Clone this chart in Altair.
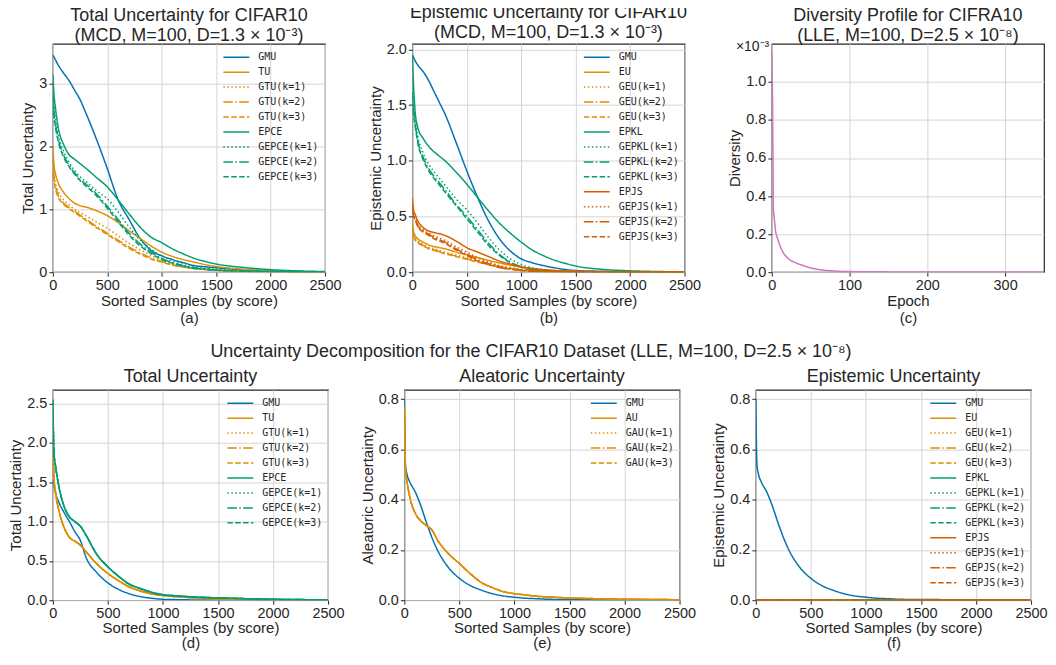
import altair as alt
import pandas as pd

FONT = "Liberation Sans"
MONO = "DejaVu Sans Mono"
TEXT = "#262626"

BLUE = "#0173B2"
ORANGE = "#DE8F05"
GREEN = "#029E73"
VERM = "#D55E00"
PINK = "#CC78BC"

SOLID = [1, 0]
DOT = [1.5, 2.5]
DASHDOT = [9.6, 2.4, 1.5, 2.4]
DASH = [5.5, 2.4]

# ---------------- data ----------------
SAMPLES = [0, 10, 25, 50, 100, 150, 200, 250, 300, 400, 500, 600, 700, 800,
           900, 1000, 1100, 1200, 1300, 1400, 1500, 1750, 2000, 2250, 2500]
SAMPLE_TICKS = [0, 500, 1000, 1500, 2000, 2500]

# (a) Total uncertainty, MCD
A_GMU = [3.46, 3.43, 3.38, 3.30, 3.17, 3.05, 2.90, 2.75, 2.55, 2.12, 1.65, 1.15, 0.84, 0.54, 0.35, 0.26, 0.20, 0.15, 0.105, 0.085, 0.07, 0.04, 0.02, 0.01, 0.005]
A_TU = [2.00, 1.72, 1.56, 1.42, 1.27, 1.17, 1.10, 1.06, 1.04, 0.98, 0.90, 0.79, 0.66, 0.54, 0.42, 0.32, 0.25, 0.20, 0.16, 0.12, 0.09, 0.045, 0.02, 0.01, 0.005]
A_GTU1 = [1.90, 1.58, 1.42, 1.28, 1.15, 1.07, 1.00, 0.95, 0.90, 0.80, 0.70, 0.58, 0.46, 0.36, 0.27, 0.20, 0.14, 0.10, 0.07, 0.05, 0.04, 0.02, 0.01, 0.005, 0.002]
A_GTU2 = [1.85, 1.52, 1.36, 1.22, 1.10, 1.03, 0.97, 0.91, 0.85, 0.73, 0.62, 0.51, 0.40, 0.31, 0.23, 0.17, 0.12, 0.085, 0.06, 0.045, 0.033, 0.017, 0.008, 0.004, 0.002]
A_GTU3 = [1.80, 1.48, 1.32, 1.19, 1.08, 1.01, 0.95, 0.89, 0.83, 0.71, 0.60, 0.49, 0.38, 0.29, 0.21, 0.16, 0.11, 0.08, 0.055, 0.04, 0.03, 0.015, 0.007, 0.003, 0.001]
A_EPCE = [3.15, 2.85, 2.60, 2.30, 2.03, 1.87, 1.80, 1.73, 1.66, 1.51, 1.36, 1.15, 0.93, 0.72, 0.56, 0.47, 0.37, 0.29, 0.22, 0.17, 0.13, 0.075, 0.04, 0.02, 0.01]
A_GEPCE1 = [2.95, 2.65, 2.45, 2.20, 1.92, 1.75, 1.62, 1.52, 1.45, 1.30, 1.17, 0.96, 0.72, 0.52, 0.37, 0.26, 0.18, 0.12, 0.08, 0.06, 0.045, 0.025, 0.012, 0.006, 0.003]
A_GEPCE2 = [2.85, 2.55, 2.35, 2.12, 1.86, 1.70, 1.58, 1.48, 1.41, 1.25, 1.05, 0.84, 0.62, 0.45, 0.32, 0.22, 0.15, 0.10, 0.07, 0.05, 0.035, 0.018, 0.009, 0.004, 0.002]
A_GEPCE3 = [2.80, 2.50, 2.30, 2.08, 1.83, 1.68, 1.56, 1.46, 1.38, 1.22, 1.02, 0.80, 0.59, 0.42, 0.30, 0.20, 0.14, 0.09, 0.06, 0.045, 0.03, 0.015, 0.008, 0.004, 0.002]

# (b) Epistemic uncertainty, MCD
B_GMU = [1.95, 1.93, 1.90, 1.86, 1.80, 1.72, 1.62, 1.52, 1.42, 1.17, 0.91, 0.67, 0.46, 0.30, 0.19, 0.12, 0.085, 0.06, 0.04, 0.025, 0.015, 0.008, 0.005, 0.003, 0.002]
B_EU = [0.45, 0.37, 0.33, 0.30, 0.27, 0.245, 0.23, 0.22, 0.21, 0.18, 0.155, 0.13, 0.105, 0.083, 0.062, 0.045, 0.032, 0.022, 0.015, 0.011, 0.008, 0.004, 0.002, 0.001, 0.001]
B_GEU1 = [0.41, 0.35, 0.31, 0.28, 0.25, 0.225, 0.21, 0.195, 0.18, 0.155, 0.13, 0.105, 0.08, 0.058, 0.04, 0.027, 0.017, 0.011, 0.007, 0.005, 0.003, 0.002, 0.001, 0.0, 0.0]
B_GEU2 = [0.40, 0.34, 0.30, 0.27, 0.24, 0.215, 0.20, 0.185, 0.17, 0.145, 0.12, 0.095, 0.07, 0.05, 0.035, 0.022, 0.014, 0.009, 0.006, 0.004, 0.003, 0.002, 0.001, 0.0, 0.0]
B_GEU3 = [0.39, 0.33, 0.29, 0.265, 0.235, 0.21, 0.195, 0.18, 0.165, 0.14, 0.115, 0.09, 0.067, 0.047, 0.032, 0.02, 0.013, 0.008, 0.005, 0.004, 0.002, 0.001, 0.001, 0.0, 0.0]
B_EPKL = [1.95, 1.70, 1.45, 1.30, 1.20, 1.13, 1.08, 1.04, 1.00, 0.90, 0.79, 0.67, 0.55, 0.44, 0.35, 0.27, 0.20, 0.15, 0.11, 0.08, 0.055, 0.025, 0.012, 0.006, 0.003]
B_GEPKL1 = [1.65, 1.50, 1.38, 1.22, 1.07, 0.97, 0.90, 0.84, 0.78, 0.66, 0.56, 0.44, 0.31, 0.20, 0.12, 0.07, 0.04, 0.022, 0.013, 0.008, 0.005, 0.003, 0.002, 0.001, 0.001]
B_GEPKL2 = [1.62, 1.46, 1.34, 1.18, 1.03, 0.93, 0.86, 0.80, 0.74, 0.61, 0.50, 0.38, 0.26, 0.16, 0.09, 0.05, 0.03, 0.017, 0.01, 0.006, 0.004, 0.002, 0.001, 0.001, 0.0]
B_GEPKL3 = [1.60, 1.44, 1.32, 1.16, 1.01, 0.91, 0.84, 0.78, 0.72, 0.60, 0.48, 0.36, 0.24, 0.15, 0.085, 0.045, 0.025, 0.015, 0.009, 0.005, 0.003, 0.002, 0.001, 0.0, 0.0]
B_EPJS = [0.67, 0.56, 0.52, 0.46, 0.40, 0.37, 0.355, 0.345, 0.33, 0.28, 0.22, 0.18, 0.14, 0.10, 0.072, 0.048, 0.032, 0.022, 0.015, 0.01, 0.008, 0.004, 0.002, 0.001, 0.001]
B_GEPJS1 = [0.61, 0.53, 0.49, 0.43, 0.38, 0.35, 0.325, 0.305, 0.285, 0.23, 0.18, 0.13, 0.09, 0.058, 0.036, 0.021, 0.013, 0.008, 0.005, 0.004, 0.003, 0.002, 0.001, 0.0, 0.0]
B_GEPJS2 = [0.60, 0.52, 0.48, 0.42, 0.37, 0.34, 0.31, 0.29, 0.27, 0.21, 0.16, 0.11, 0.075, 0.045, 0.028, 0.016, 0.01, 0.006, 0.004, 0.003, 0.002, 0.001, 0.0, 0.0, 0.0]
B_GEPJS3 = [0.59, 0.51, 0.47, 0.41, 0.36, 0.33, 0.30, 0.28, 0.26, 0.20, 0.15, 0.10, 0.07, 0.042, 0.026, 0.015, 0.009, 0.006, 0.004, 0.003, 0.002, 0.001, 0.0, 0.0, 0.0]

# (c) Diversity profile (values in units of 1e-3)
EPOCHS = [0, 1, 2, 3, 4, 5, 6, 8, 10, 12, 15, 18, 20, 25, 30, 35, 40, 45, 50, 60, 70, 80, 90, 100, 150, 200, 250, 300, 350]
DIVERSITY = [1.15, 0.90, 0.33, 0.29, 0.25, 0.21, 0.195, 0.17, 0.145, 0.125, 0.10, 0.085, 0.075, 0.06, 0.05, 0.042, 0.035, 0.028, 0.022, 0.014, 0.009, 0.006, 0.004, 0.003, 0.0015, 0.001, 0.0008, 0.0006, 0.0005]
EPOCH_TICKS = [0, 100, 200, 300]

# (d) Total uncertainty, LLE
D_GMU = [1.75, 1.47, 1.36, 1.26, 1.12, 1.00, 0.87, 0.76, 0.55, 0.35, 0.22, 0.135, 0.08, 0.045, 0.025, 0.012, 0.008, 0.005, 0.004, 0.003, 0.003, 0.002, 0.001, 0.001, 0.0]
D_TU = [2.10, 1.55, 1.36, 1.17, 0.93, 0.80, 0.75, 0.70, 0.62, 0.46, 0.34, 0.245, 0.165, 0.115, 0.08, 0.06, 0.048, 0.038, 0.03, 0.022, 0.017, 0.01, 0.006, 0.004, 0.002]
D_EPCE = [2.55, 1.88, 1.70, 1.48, 1.20, 1.06, 1.00, 0.94, 0.83, 0.58, 0.425, 0.30, 0.20, 0.145, 0.10, 0.07, 0.058, 0.048, 0.04, 0.034, 0.03, 0.02, 0.012, 0.008, 0.005]

# (e) Aleatoric uncertainty, LLE
E_GMU = [0.80, 0.54, 0.50, 0.47, 0.43, 0.375, 0.31, 0.25, 0.20, 0.13, 0.087, 0.058, 0.04, 0.026, 0.017, 0.012, 0.008, 0.006, 0.004, 0.003, 0.003, 0.002, 0.001, 0.001, 0.0]
E_AU = [0.77, 0.52, 0.47, 0.41, 0.345, 0.315, 0.297, 0.28, 0.24, 0.185, 0.146, 0.105, 0.07, 0.05, 0.034, 0.026, 0.021, 0.016, 0.013, 0.011, 0.009, 0.006, 0.004, 0.003, 0.002]

# (f) Epistemic uncertainty, LLE
F_GMU = [0.80, 0.54, 0.50, 0.47, 0.43, 0.375, 0.31, 0.25, 0.20, 0.13, 0.087, 0.058, 0.04, 0.026, 0.017, 0.012, 0.008, 0.006, 0.004, 0.003, 0.003, 0.002, 0.001, 0.001, 0.0]
F_FLAT = [0.0] * len(SAMPLES)


def frame(xs, series):
    rows = []
    for name, _, _, vals in series:
        for x, v in zip(xs, vals):
            rows.append({"x": x, "value": v, "series": name})
    return pd.DataFrame(rows)


def panel(xs, series, title, ytitle, xtitle, ydomain, yticks, yfmt,
          width, height, lx, ly, xdomain=(0, 2500), xticks=SAMPLE_TICKS,
          legend=True, interp="monotone", title_offset=4, title_lh=20, xline=17, xpad=2):
    df = frame(xs, series)
    names = [s[0] for s in series]
    colors = [s[1] for s in series]
    dashes = [s[2] for s in series]
    if legend:
        lg = alt.Legend(orient="none", legendX=lx, legendY=ly, title=None,
                        symbolType="stroke", symbolSize=676, symbolStrokeWidth=1.5,
                        clipHeight=14.8, rowPadding=0, labelFont=MONO,
                        labelFontSize=10, labelColor=TEXT, labelOffset=8,
                        padding=0, direction="vertical")
    else:
        lg = None
    return alt.Chart(df).mark_line(strokeWidth=1.5, clip=True, interpolate=interp).encode(
        x=alt.X("x:Q", scale=alt.Scale(domain=list(xdomain), nice=False, zero=False),
                axis=alt.Axis(values=xticks, format="d", title=xtitle, labelFlush=False,
                              titleLineHeight=xline, titlePadding=xpad)),
        y=alt.Y("value:Q", scale=alt.Scale(domain=list(ydomain), nice=False),
                axis=alt.Axis(values=yticks, format=yfmt, title=ytitle, labelFlush=False,
                              titlePadding=3)),
        color=alt.Color("series:N", scale=alt.Scale(domain=names, range=colors), legend=lg),
        strokeDash=alt.StrokeDash("series:N", scale=alt.Scale(domain=names, range=dashes), legend=lg),
    ).properties(width=width, height=height,
                 title=alt.Title(title, offset=title_offset, lineHeight=title_lh))


A_SERIES = [
    ("GMU", BLUE, SOLID, A_GMU),
    ("TU", ORANGE, SOLID, A_TU),
    ("GTU(k=1)", ORANGE, DOT, A_GTU1),
    ("GTU(k=2)", ORANGE, DASHDOT, A_GTU2),
    ("GTU(k=3)", ORANGE, DASH, A_GTU3),
    ("EPCE", GREEN, SOLID, A_EPCE),
    ("GEPCE(k=1)", GREEN, DOT, A_GEPCE1),
    ("GEPCE(k=2)", GREEN, DASHDOT, A_GEPCE2),
    ("GEPCE(k=3)", GREEN, DASH, A_GEPCE3),
]
B_SERIES = [
    ("GMU", BLUE, SOLID, B_GMU),
    ("EU", ORANGE, SOLID, B_EU),
    ("GEU(k=1)", ORANGE, DOT, B_GEU1),
    ("GEU(k=2)", ORANGE, DASHDOT, B_GEU2),
    ("GEU(k=3)", ORANGE, DASH, B_GEU3),
    ("EPKL", GREEN, SOLID, B_EPKL),
    ("GEPKL(k=1)", GREEN, DOT, B_GEPKL1),
    ("GEPKL(k=2)", GREEN, DASHDOT, B_GEPKL2),
    ("GEPKL(k=3)", GREEN, DASH, B_GEPKL3),
    ("EPJS", VERM, SOLID, B_EPJS),
    ("GEPJS(k=1)", VERM, DOT, B_GEPJS1),
    ("GEPJS(k=2)", VERM, DASHDOT, B_GEPJS2),
    ("GEPJS(k=3)", VERM, DASH, B_GEPJS3),
]
C_SERIES = [("Diversity", PINK, SOLID, DIVERSITY)]
D_SERIES = [
    ("GMU", BLUE, SOLID, D_GMU),
    ("TU", ORANGE, SOLID, D_TU),
    ("GTU(k=1)", ORANGE, DOT, D_TU),
    ("GTU(k=2)", ORANGE, DASHDOT, D_TU),
    ("GTU(k=3)", ORANGE, DASH, D_TU),
    ("EPCE", GREEN, SOLID, D_EPCE),
    ("GEPCE(k=1)", GREEN, DOT, D_EPCE),
    ("GEPCE(k=2)", GREEN, DASHDOT, D_EPCE),
    ("GEPCE(k=3)", GREEN, DASH, D_EPCE),
]
E_SERIES = [
    ("GMU", BLUE, SOLID, E_GMU),
    ("AU", ORANGE, SOLID, E_AU),
    ("GAU(k=1)", ORANGE, DOT, E_AU),
    ("GAU(k=2)", ORANGE, DASHDOT, E_AU),
    ("GAU(k=3)", ORANGE, DASH, E_AU),
]
F_SERIES = [
    ("GMU", BLUE, SOLID, F_GMU),
    ("EU", ORANGE, SOLID, F_FLAT),
    ("GEU(k=1)", ORANGE, DOT, F_FLAT),
    ("GEU(k=2)", ORANGE, DASHDOT, F_FLAT),
    ("GEU(k=3)", ORANGE, DASH, F_FLAT),
    ("EPKL", GREEN, SOLID, F_FLAT),
    ("GEPKL(k=1)", GREEN, DOT, F_FLAT),
    ("GEPKL(k=2)", GREEN, DASHDOT, F_FLAT),
    ("GEPKL(k=3)", GREEN, DASH, F_FLAT),
    ("EPJS", VERM, SOLID, F_FLAT),
    ("GEPJS(k=1)", VERM, DOT, F_FLAT),
    ("GEPJS(k=2)", VERM, DASHDOT, F_FLAT),
    ("GEPJS(k=3)", VERM, DASH, F_FLAT),
]

TOP_W, TOP_H = 273, 229
BOT_W, BOT_H = 276, 211

pa = panel(SAMPLES, A_SERIES, ["Total Uncertainty for CIFAR10", "(MCD, M=100, D=1.3 × 10⁻³)"],
           "Total Uncertainty", ["Sorted Samples (by score)", "(a)"],
           (0, 3.64), [0, 1, 2, 3], "d", TOP_W, TOP_H, 170, 6,
           title_offset=-1, title_lh=20)
pb = panel(SAMPLES, B_SERIES, ["Epistemic Uncertainty for CIFAR10", "(MCD, M=100, D=1.3 × 10⁻³)"],
           "Epistemic Uncertainty", ["Sorted Samples (by score)", "(b)"],
           (0, 2.05), [0, 0.5, 1.0, 1.5, 2.0], ".1f", TOP_W, TOP_H, 171, 6,
           title_offset=-1, title_lh=20)
pc_line = panel(EPOCHS, C_SERIES, ["Diversity Profile for CIFRA10", "(LLE, M=100, D=2.5 × 10⁻⁸)"],
                "Diversity", ["Epoch", "(c)"],
                (0, 1.2), [0, 0.2, 0.4, 0.6, 0.8, 1.0], ".1f", TOP_W, TOP_H, 0, 0,
                xdomain=(0, 350), xticks=EPOCH_TICKS, legend=False, interp="linear",
                title_offset=-5, title_lh=20)
pc_off = alt.Chart(pd.DataFrame({"t": ["×10⁻³"]})).mark_text(
    align="left", baseline="top", font=FONT, fontSize=14, color=TEXT
).encode(text="t:N", x=alt.value(-36), y=alt.value(-4))
pc = alt.layer(pc_line, pc_off).properties(width=TOP_W, height=TOP_H)

pd_ = panel(SAMPLES, D_SERIES, "Total Uncertainty", "Total Uncertainty",
            ["Sorted Samples (by score)", "(d)"],
            (0, 2.675), [0, 0.5, 1.0, 1.5, 2.0, 2.5], ".1f", BOT_W, BOT_H, 174, 6,
            xline=15, xpad=1)
pe = panel(SAMPLES, E_SERIES, "Aleatoric Uncertainty", "Aleatoric Uncertainty",
           ["Sorted Samples (by score)", "(e)"],
           (0, 0.837), [0, 0.2, 0.4, 0.6, 0.8], ".1f", BOT_W, BOT_H, 186, 6,
           xline=15, xpad=1)
pf = panel(SAMPLES, F_SERIES, "Epistemic Uncertainty", "Epistemic Uncertainty",
           ["Sorted Samples (by score)", "(f)"],
           (0, 0.837), [0, 0.2, 0.4, 0.6, 0.8], ".1f", BOT_W, BOT_H, 174, 6,
           xline=15, xpad=1)

IND = dict(color="independent", strokeDash="independent")

top = alt.hconcat(pa, pb, pc, spacing=25.5).resolve_scale(**IND).resolve_legend(**IND)
bottom = alt.hconcat(pd_, pe, pf, spacing=14.5).properties(
    title=alt.Title("Uncertainty Decomposition for the CIFAR10 Dataset (LLE, M=100, D=2.5 × 10⁻⁸)",
                    anchor="middle", dx=3, offset=6, fontSize=18)
).resolve_scale(**IND).resolve_legend(**IND)

chart = alt.vconcat(top, bottom, spacing=16).resolve_scale(**IND).resolve_legend(**IND).properties(
    padding={"left": 0, "top": -6, "right": 0, "bottom": 0}
).configure(font=FONT).configure_view(
    stroke=TEXT, strokeWidth=1.2
).configure_axis(
    labelFont=FONT, labelFontSize=14.5, labelColor=TEXT, titleFont=FONT, titleFontSize=15,
    titleColor=TEXT, titleFontWeight="normal", gridColor="#D5D5D5", gridWidth=1,
    tickColor=TEXT, tickSize=4, tickWidth=1, domain=False, labelPadding=2
).configure_title(
    font=FONT, fontSize=18, fontWeight="normal", color=TEXT, lineHeight=20, offset=4
)

chart.save("out.html", embed_options={"renderer": "svg", "actions": False})
